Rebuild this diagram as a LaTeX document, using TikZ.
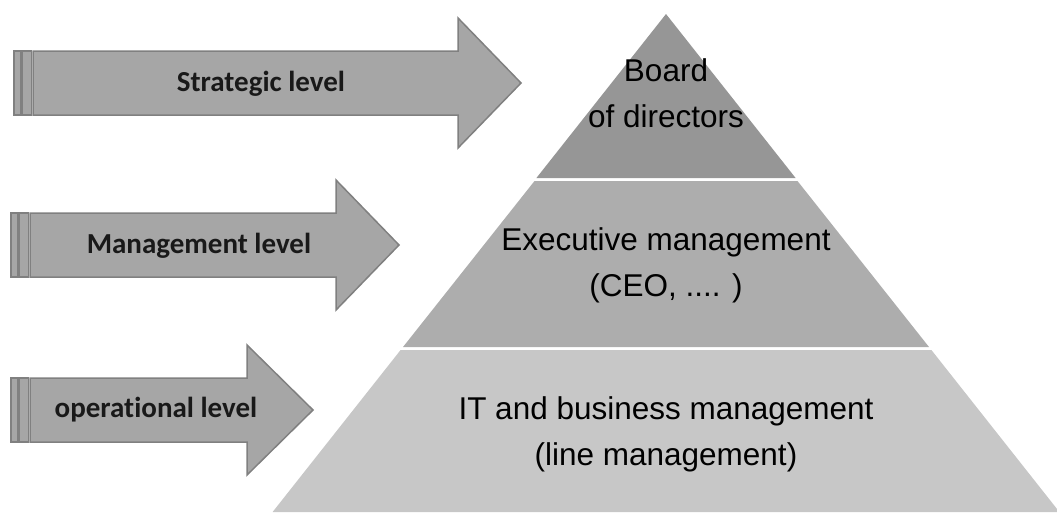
\documentclass[tikz,border=0pt]{standalone}
\usepackage{fontspec}
\setmainfont{Liberation Sans}
\newfontfamily\calibri[Ligatures=NoCommon]{Carlito}
\usepackage{tikz}
\usetikzlibrary{positioning}
\definecolor{arrowgray}{gray}{0.65}
\definecolor{arrowline}{gray}{0.5}
\definecolor{tiertop}{gray}{0.59}
\definecolor{tiermid}{gray}{0.68}
\definecolor{tierlow}{gray}{0.78}
\tikzset
{
    levelarrow/.style = {fill=arrowgray, draw=arrowline, line width=1.5pt, line join=miter},
    levellabel/.style = {font=\calibri\bfseries\fontsize{29}{34}\selectfont, text=black!90, anchor=base, inner sep=0pt},
    tierlabel/.style  = {font=\fontsize{31.5}{46}\selectfont, align=center, inner sep=0pt}
}
% #1 left end, #2 start of head, #3 tip, #4 middle line
\newcommand{\stripedarrow}[4]{%
    \draw[levelarrow] (#1,#4-32) rectangle (#1+7,#4+32);
    \draw[levelarrow] (#1+8.5,#4-32) rectangle (#1+17.5,#4+32);
    \draw[levelarrow] (#1+19,#4-32) -- (#2,#4-32) -- (#2,#4-65) -- (#3,#4)
        -- (#2,#4+65) -- (#2,#4+32) -- (#1+19,#4+32) -- cycle;
}

\begin{document}
\begin{tikzpicture}[x=1pt, y=-1pt]
	\useasboundingbox (0,0) rectangle (1057,512);
	% pyramid
	\coordinate (apex) at (666,14);
	\fill[tiertop] (apex) -- (795.6,178) -- (536.4,178) -- cycle;
	\fill[tiermid] (534.5,181) -- (797.5,181) -- (929,347) -- (403,347) -- cycle;
	\fill[tierlow] (400.6,350) -- (931.4,350) -- (1059.4,512) -- (272.6,512) -- cycle;
	\node[tierlabel] (board) at (666,93.7) {Board\\of directors};
	\node[tierlabel] (executive) at (666,265) {Executive management\\(CEO, .... )};
	\node[tierlabel] (line) at (666,434.5) {IT and business management\\(line management)};
	% arrows
	\stripedarrow{14}{458}{521}{83}
	\stripedarrow{11}{336}{399}{245}
	\stripedarrow{11}{247}{313}{410}
	\node[levellabel] (strategic) at (261,91.7) {Strategic level};
	\node[levellabel] (management) at (199,253.3) {Management level};
	\node[levellabel] (operational) at (156,417) {operational level};
\end{tikzpicture}
\end{document}
